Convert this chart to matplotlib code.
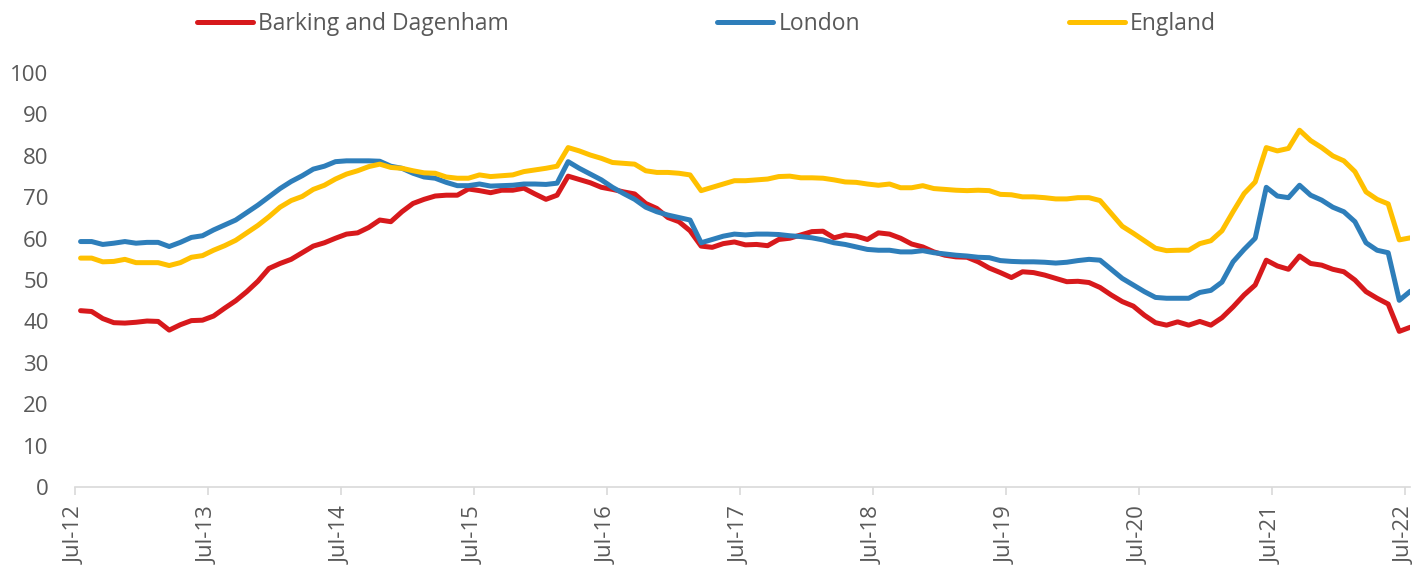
import matplotlib
matplotlib.use('Agg')
import matplotlib.pyplot as plt
import numpy as np

# monthly values, Jul-12 .. Jul-22
barking = [42.6, 42.4, 40.7, 39.7, 39.6, 39.8, 40.1, 40.0, 37.9, 39.2, 40.2, 40.3,
           41.3, 43.2, 45.0, 47.2, 49.7, 52.8, 54.0, 55.0, 56.6, 58.2, 59.0, 60.1,
           61.1, 61.4, 62.7, 64.5, 64.1, 66.5, 68.5, 69.5, 70.3, 70.5, 70.5, 72.0,
           71.6, 71.1, 71.7, 71.7, 72.2, 70.8, 69.5, 70.5, 75.1, 74.3, 73.5, 72.4,
           71.9, 71.3, 70.8, 68.5, 67.3, 65.1, 64.1, 61.9, 58.2, 57.9, 58.8, 59.2,
           58.5, 58.6, 58.3, 59.8, 60.1, 60.9, 61.7, 61.8, 60.2, 60.9, 60.6, 59.8,
           61.4, 61.1, 60.1, 58.7, 58.0, 56.8, 56.0, 55.6, 55.5, 54.4, 52.9, 51.8,
           50.6, 52.0, 51.8, 51.2, 50.4, 49.6, 49.7, 49.4, 48.2, 46.4, 44.8, 43.7,
           41.5, 39.7, 39.1, 39.9, 39.1, 40.0, 39.1, 40.9, 43.5, 46.4, 48.8, 54.8,
           53.4, 52.6, 55.8, 54.0, 53.6, 52.6, 52.0, 50.0, 47.2, 45.6, 44.2, 37.6,
           38.6]
london = [59.3, 59.3, 58.6, 58.9, 59.3, 58.9, 59.1, 59.1, 58.1, 59.1, 60.3, 60.7,
          62.1, 63.3, 64.5, 66.3, 68.1, 70.1, 72.1, 73.8, 75.2, 76.8, 77.5, 78.6,
          78.8, 78.8, 78.8, 78.7, 77.5, 77.0, 75.8, 74.9, 74.6, 73.6, 72.8, 72.8,
          73.2, 72.7, 72.8, 72.9, 73.2, 73.2, 73.1, 73.4, 78.6, 77.0, 75.6, 74.2,
          72.4, 70.9, 69.5, 67.6, 66.5, 65.7, 65.1, 64.5, 59.0, 59.8, 60.6, 61.1,
          60.9, 61.1, 61.1, 61.0, 60.7, 60.5, 60.2, 59.7, 59.0, 58.6, 58.0, 57.4,
          57.2, 57.2, 56.8, 56.8, 57.1, 56.6, 56.3, 56.0, 55.8, 55.5, 55.4, 54.7,
          54.5, 54.4, 54.4, 54.3, 54.1, 54.3, 54.7, 55.0, 54.8, 52.6, 50.4, 48.8,
          47.2, 45.8, 45.6, 45.6, 45.6, 47.0, 47.5, 49.5, 54.4, 57.4, 60.1, 72.4,
          70.3, 69.9, 72.9, 70.5, 69.3, 67.6, 66.5, 64.1, 59.0, 57.2, 56.6, 45.1,
          47.3]
england = [55.3, 55.3, 54.4, 54.5, 55.0, 54.2, 54.2, 54.2, 53.5, 54.2, 55.5, 55.9,
           57.2, 58.3, 59.6, 61.4, 63.2, 65.3, 67.6, 69.2, 70.2, 71.9, 72.9, 74.4,
           75.6, 76.4, 77.4, 78.0, 77.2, 77.0, 76.4, 75.9, 75.8, 74.9, 74.6, 74.6,
           75.4, 75.0, 75.2, 75.4, 76.2, 76.6, 77.0, 77.5, 82.0, 81.2, 80.2, 79.4,
           78.4, 78.2, 78.0, 76.4, 76.0, 76.0, 75.8, 75.4, 71.6, 72.4, 73.2, 74.0,
           74.0, 74.2, 74.4, 75.0, 75.1, 74.7, 74.7, 74.6, 74.2, 73.7, 73.6, 73.2,
           72.9, 73.2, 72.3, 72.3, 72.8, 72.1, 71.9, 71.7, 71.6, 71.7, 71.6, 70.7,
           70.6, 70.1, 70.1, 69.9, 69.6, 69.6, 69.9, 69.9, 69.2, 66.1, 63.0, 61.3,
           59.5, 57.7, 57.1, 57.2, 57.2, 58.8, 59.5, 61.9, 66.5, 70.9, 73.7, 82.0,
           81.2, 81.8, 86.2, 83.7, 82.0, 80.0, 78.8, 76.2, 71.3, 69.5, 68.4, 59.7,
           60.2]
tick_labels = ['Jul-12', 'Jul-13', 'Jul-14', 'Jul-15', 'Jul-16', 'Jul-17',
               'Jul-18', 'Jul-19', 'Jul-20', 'Jul-21', 'Jul-22']
series_names = ['Barking and Dagenham', 'London', 'England']
colors = ['#D7191C', '#2E7EBA', '#FFC000']

plt.rcParams['font.family'] = ['Open Sans', 'DejaVu Sans']

fig = plt.figure(figsize=(14.21, 5.67), dpi=100)
ax = fig.add_axes([0.0528, 0.1411, 0.9397, 0.730])

# points sit mid-month, ticks at start of each July
x = np.arange(len(barking)) + 0.5
for vals, name, c in zip([barking, london, england], series_names, colors):
    ax.plot(x, vals, color=c, lw=3.6, label=name, solid_capstyle='round',
            solid_joinstyle='round')

ax.set_xlim(0, 120.5)
ax.set_ylim(0, 100)
ax.set_yticks(range(0, 101, 10))
ax.set_xticks(np.arange(len(tick_labels)) * 12)
ax.set_xticklabels(tick_labels, rotation=90)

for s in ['top', 'right', 'left']:
    ax.spines[s].set_visible(False)
ax.spines['bottom'].set_color('#d9d9d9')
ax.spines['bottom'].set_linewidth(1.2)
ax.tick_params(axis='y', length=0, pad=19, labelsize=16, labelcolor='#595959')
ax.tick_params(axis='x', length=6, width=1.2, color='#d9d9d9', pad=8,
               labelsize=16, labelcolor='#595959')

fig.legend(loc='center', bbox_to_anchor=(0.497, 0.958), ncol=3, frameon=False,
           fontsize=16.5, handlelength=2.45, handletextpad=0.22, columnspacing=9.1,
           labelcolor='#595959')

fig.savefig('out.png', dpi=100)
